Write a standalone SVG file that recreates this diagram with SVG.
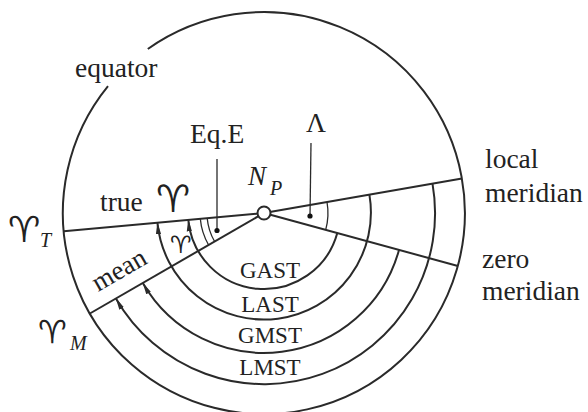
<svg xmlns="http://www.w3.org/2000/svg" width="588" height="412" viewBox="0 0 588 412">
<defs>
<marker id="arr" viewBox="0 0 12 6" markerWidth="12" markerHeight="6" refX="11.5" refY="3" orient="auto" markerUnits="userSpaceOnUse">
<path d="M0,0.4 L12,3 L0,5.6 Z" fill="#2a2a2a" stroke="none"/>
</marker>
<style>
.ln{fill:none;stroke:#2a2a2a;stroke-width:2}
.thin{fill:none;stroke:#2a2a2a;stroke-width:1.3}
.dot{fill:#111;stroke:none}
.t{font-family:'Liberation Serif',serif;font-size:27.5px;fill:#222}
.s{font-family:'Liberation Serif',serif;font-size:23px;fill:#222}
.i{font-family:'Liberation Serif',serif;font-style:italic;fill:#222}
.ar{font-family:'DejaVu Sans',sans-serif;fill:#222}
</style>
</defs>
<rect width="588" height="412" fill="#fff"/>
<g id="equator">
<path class="ln" d="M147.8 49 A201 201 0 1 1 108 86.2"/>
<text class="t" x="75" y="77">equator</text>
</g>
<g id="connectors">
<line class="ln" x1="264" y1="213" x2="63.8" y2="231.2"/>
<line class="ln" x1="264" y1="213" x2="89.9" y2="313.5"/>
<line class="ln" x1="264" y1="213" x2="462" y2="178.4"/>
<line class="ln" x1="264" y1="213" x2="457.9" y2="266"/>
<path class="ln" d="M337.3 233.1 A76 76 0 0 1 188.3 219.9" marker-end="url(#arr)"/>
<path class="ln" d="M369.4 194.6 A107 107 0 1 1 157.4 222.7" marker-end="url(#arr)"/>
<path class="ln" d="M399 249.9 A140 140 0 0 1 142.8 283" marker-end="url(#arr)"/>
<path class="ln" d="M432.5 183.6 A171 171 0 0 1 115.9 298.5" marker-end="url(#arr)"/>
<path class="thin" d="M214.6 241.5 A57 57 0 0 1 207.2 218.2"/>
<path class="thin" d="M208.6 245 A64 64 0 0 1 200.3 218.8"/>
<path class="thin" d="M327 202 A64 64 0 0 1 325.7 229.9"/>
<line class="thin" x1="217" y1="159" x2="217" y2="230"/>
<line class="thin" x1="311" y1="143" x2="310" y2="216"/>
<circle class="dot" cx="217" cy="230.5" r="2.6"/>
<circle class="dot" cx="310" cy="216" r="2.6"/>
</g>
<g id="np">
<circle cx="264" cy="213" r="6.5" fill="#fff" stroke="#2a2a2a" stroke-width="2"/>
<text class="i" x="248" y="185" font-size="27">N</text>
<text class="i" x="270" y="195" font-size="20">P</text>
</g>
<g id="labels">
<text class="t" x="190" y="143">Eq.E</text>
<text class="t" x="316" y="132" text-anchor="middle">Λ</text>
<text class="t" x="100" y="211">true</text>
<text class="ar" x="156" y="212" font-size="38">♈︎</text>
<text class="ar" x="8" y="242" font-size="36">♈︎</text>
<text class="i" x="40" y="247" font-size="20">T</text>
<text class="ar" x="38" y="343" font-size="32">♈︎</text>
<text class="i" x="70" y="350" font-size="20">M</text>
<text class="ar" x="170" y="253" font-size="24">♈︎</text>
<text class="t" x="98" y="292" font-size="27" transform="rotate(-30 98 292)" style="font-size:27px">mean</text>
<text class="t" x="485" y="168">local</text>
<text class="t" x="485" y="202">meridian</text>
<text class="t" x="482" y="268">zero</text>
<text class="t" x="482" y="300">meridian</text>
<text class="s" x="270" y="278" text-anchor="middle">GAST</text>
<text class="s" x="270" y="312" text-anchor="middle">LAST</text>
<text class="s" x="270" y="343" text-anchor="middle">GMST</text>
<text class="s" x="270" y="375" text-anchor="middle">LMST</text>
</g>
</svg>
